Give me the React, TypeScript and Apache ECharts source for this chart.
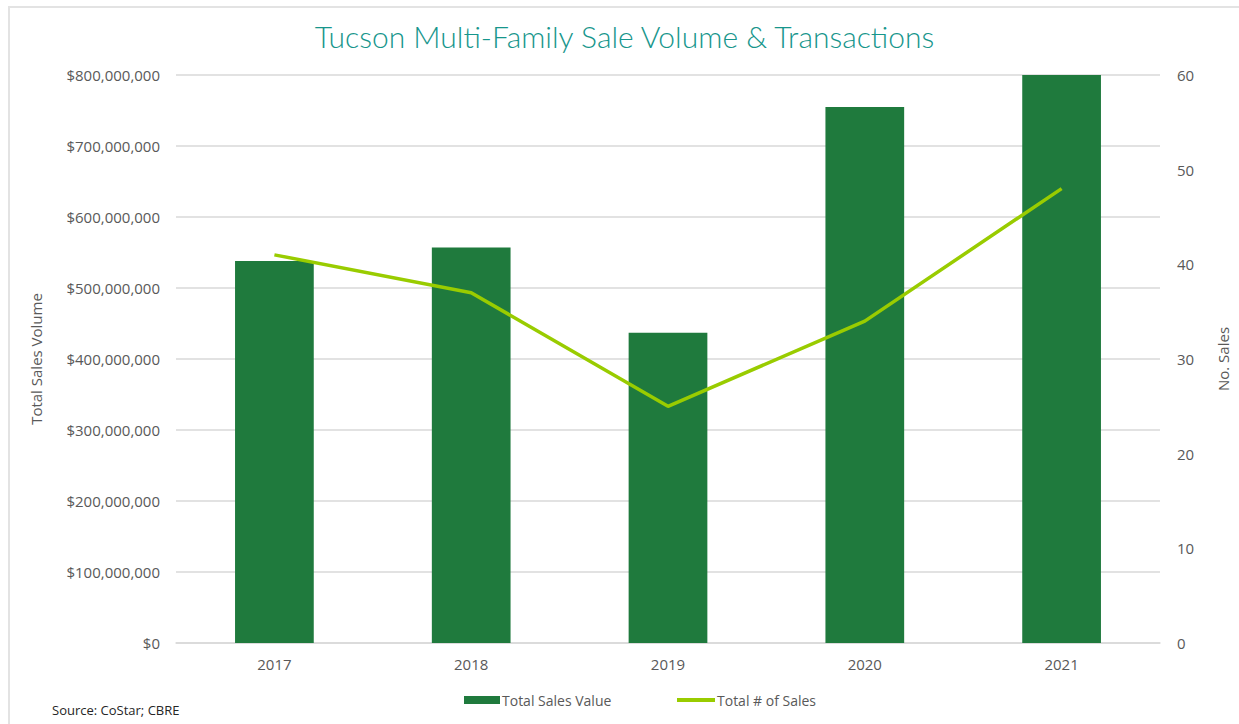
import React, { useEffect, useRef } from "react";
import * as echarts from "echarts";

const categories = ["2017", "2018", "2019", "2020", "2021"];
const salesValue = [538000000, 557000000, 437000000, 755000000, 800000000];
const salesCount = [41, 37, 25, 34, 48];
const leftTicks = [0, 100000000, 200000000, 300000000, 400000000, 500000000, 600000000, 700000000, 800000000];
const rightTicks = [0, 10, 20, 30, 40, 50, 60];

const textColor = "#595959";
const font = "'Open Sans', sans-serif";

export default function App() {
  const ref = useRef<HTMLDivElement>(null);
  useEffect(() => {
    if (!ref.current) return;
    const chart = echarts.init(ref.current, null, { renderer: "svg" });
    chart.setOption({
      animation: false,
      backgroundColor: "#ffffff",
      title: {
        text: "Tucson Multi-Family Sale Volume & Transactions",
        left: "center",
        top: 8,
        textStyle: { color: "#17968c", fontSize: 30, fontWeight: 300, fontFamily: "Lato, sans-serif" },
      },
      grid: { left: 166, right: 79, top: 67, bottom: 81, containLabel: false },
      legend: [
        {
          data: [{ name: "Total Sales Value", icon: "rect" }],
          left: 449,
          top: 680,
          itemWidth: 36,
          itemHeight: 8,
          itemGap: 3,
          textStyle: { color: textColor, fontSize: 14, fontFamily: font, padding: [0, 0, 0, -3] },
        },
        {
          data: [{ name: "Total # of Sales", icon: "rect" }],
          left: 662,
          top: 680,
          itemWidth: 38,
          itemHeight: 4,
          textStyle: { color: textColor, fontSize: 14, fontFamily: font, padding: [0, 0, 0, -3] },
        },
      ],
      graphic: [
        {
          type: "text",
          left: 42,
          top: 695,
          style: { text: "Source: CoStar; CBRE", fill: "#262626", fontSize: 13, fontFamily: font },
        },
      ],
      xAxis: {
        type: "category",
        data: categories,
        axisLine: { lineStyle: { color: "#d9d9d9", width: 1.5 } },
        axisTick: { show: false },
        axisLabel: { color: textColor, fontSize: 15, fontFamily: font, margin: 13 },
      },
      yAxis: [
        {
          type: "value",
          min: leftTicks[0],
          max: leftTicks[leftTicks.length - 1],
          interval: 100000000,
          name: "Total Sales Volume",
          nameLocation: "middle",
          nameGap: 133,
          nameRotate: 90,
          nameTextStyle: { color: textColor, fontSize: 15, fontFamily: font },
          axisLine: { show: false },
          axisTick: { show: false },
          splitLine: { lineStyle: { color: "#d9d9d9", width: 1.5 } },
          axisLabel: {
            color: textColor,
            fontSize: 15,
            fontFamily: font,
            margin: 16,
            formatter: (v: number) => "$" + v.toLocaleString("en-US"),
          },
        },
        {
          type: "value",
          min: rightTicks[0],
          max: rightTicks[rightTicks.length - 1],
          interval: 10,
          name: "No. Sales",
          nameLocation: "middle",
          nameGap: 55,
          nameRotate: 90,
          nameTextStyle: { color: textColor, fontSize: 15, fontFamily: font },
          axisLine: { show: false },
          axisTick: { show: false },
          splitLine: { show: false },
          axisLabel: { color: textColor, fontSize: 15, fontFamily: font, margin: 17 },
        },
      ],
      series: [
        {
          name: "Total Sales Value",
          type: "bar",
          data: salesValue,
          yAxisIndex: 0,
          barCategoryGap: "60%",
          itemStyle: { color: "#1f7a3d" },
        },
        {
          name: "Total # of Sales",
          type: "line",
          data: salesCount,
          yAxisIndex: 1,
          symbol: "none",
          lineStyle: { color: "#99cc00", width: 3.5 },
          itemStyle: { color: "#99cc00" },
        },
      ],
    });
    return () => chart.dispose();
  }, []);
  return (
    <div
      style={{
        position: "absolute",
        left: 8,
        top: 6,
        width: 1231,
        height: 718,
        borderTop: "2px solid #e3e3e3",
        borderLeft: "2px solid #e3e3e3",
        boxSizing: "border-box",
        background: "#fff",
      }}
    >
      <div ref={ref} style={{ width: 1229, height: 716 }} />
    </div>
  );
}
